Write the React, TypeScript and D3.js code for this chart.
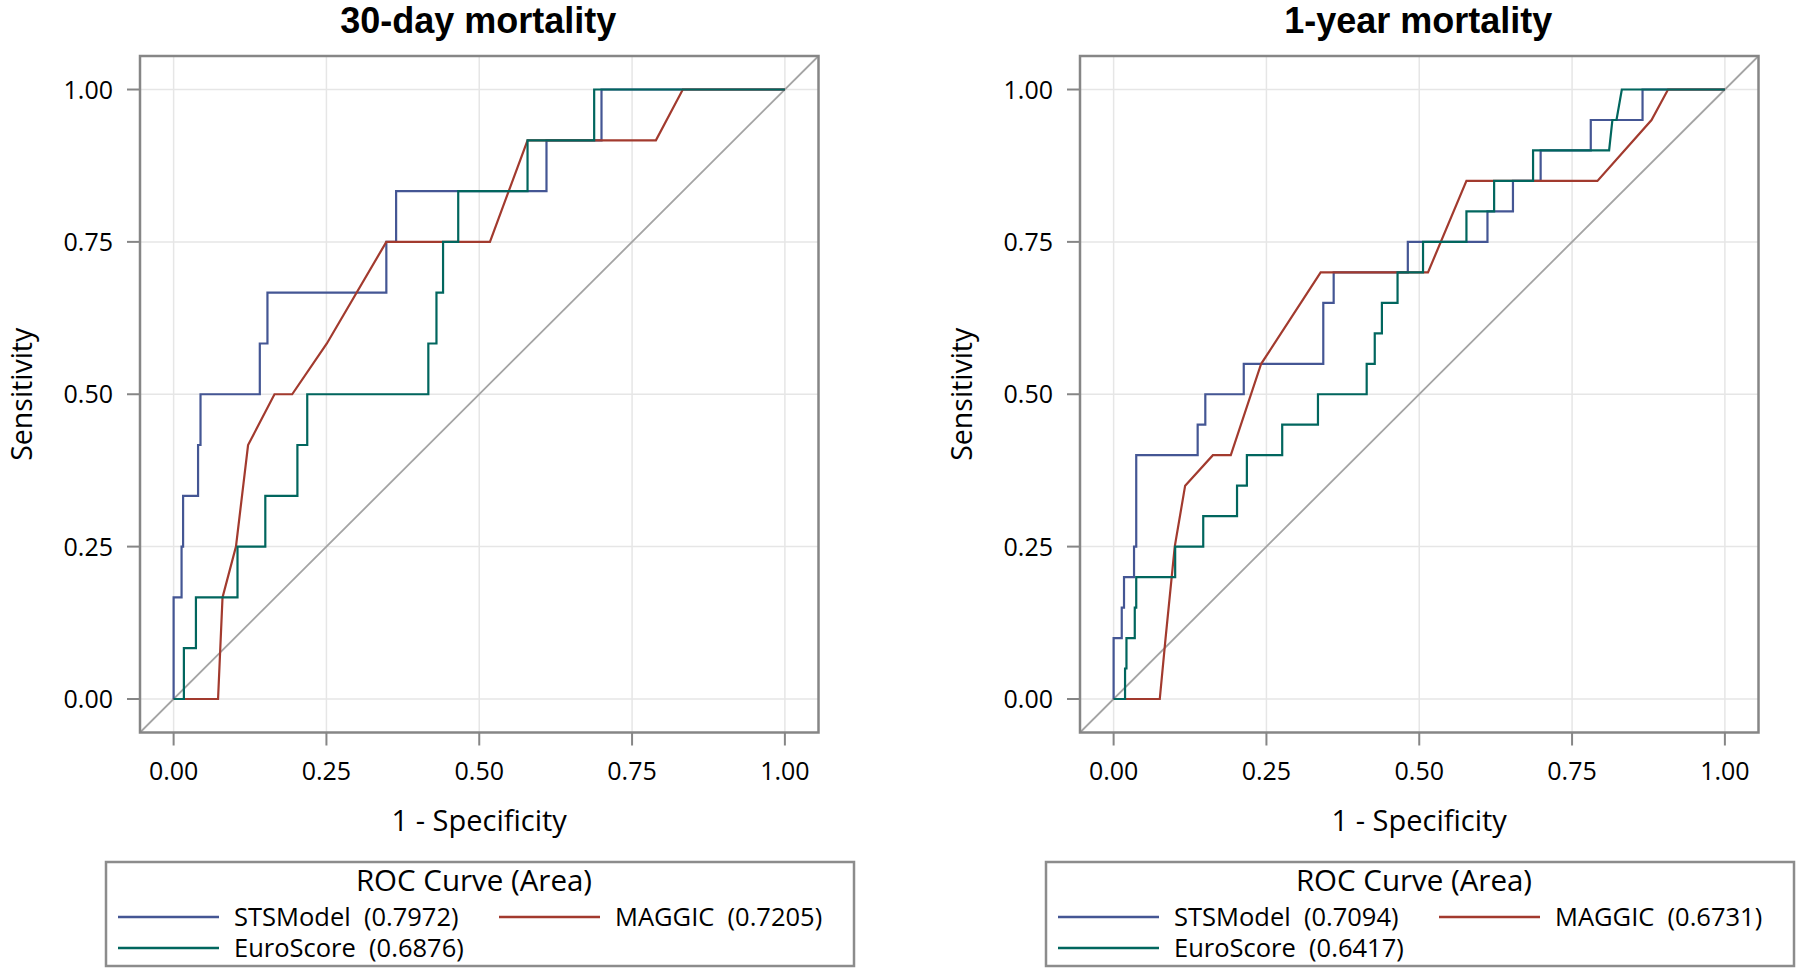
import React from "react";
import * as d3 from "d3";

// ---------- data ----------
const tickValues = [0, 0.25, 0.5, 0.75, 1];
const tickLabels = ["0.00", "0.25", "0.50", "0.75", "1.00"];
const panelTitles = ["30-day mortality", "1-year mortality"];
const seriesNames = ["STSModel", "MAGGIC", "EuroScore"];
const seriesColors = ["#445694", "#A23A2E", "#01665E"];
const areas30 = ["0.7972", "0.7205", "0.6876"];
const areas1y = ["0.7094", "0.6731", "0.6417"];

// 30-day mortality
const sts30Fpr = [0, 0, 0.013, 0.013, 0.0155, 0.0155, 0.04, 0.04, 0.044, 0.044, 0.141, 0.141, 0.1535, 0.1535, 0.348, 0.348, 0.364, 0.364, 0.61, 0.61, 0.7, 0.7, 1];
const sts30Tpr = [0, 0.1667, 0.1667, 0.25, 0.25, 0.3333, 0.3333, 0.4167, 0.4167, 0.5, 0.5, 0.5833, 0.5833, 0.6667, 0.6667, 0.75, 0.75, 0.8333, 0.8333, 0.9167, 0.9167, 1, 1];
const maggic30Fpr = [0, 0.0727, 0.08, 0.102, 0.1218, 0.165, 0.194, 0.2507, 0.348, 0.5175, 0.579, 0.789, 0.833, 1];
const maggic30Tpr = [0, 0, 0.1667, 0.25, 0.4167, 0.5, 0.5, 0.5833, 0.75, 0.75, 0.9167, 0.9167, 1, 1];
const euro30Fpr = [0, 0.0168, 0.0168, 0.0365, 0.0365, 0.1045, 0.1045, 0.15, 0.15, 0.2025, 0.2025, 0.2186, 0.2186, 0.4167, 0.4167, 0.43, 0.43, 0.4408, 0.4408, 0.4656, 0.4656, 0.579, 0.579, 0.688, 0.688, 1];
const euro30Tpr = [0, 0, 0.0833, 0.0833, 0.1667, 0.1667, 0.25, 0.25, 0.3333, 0.3333, 0.4167, 0.4167, 0.5, 0.5, 0.5833, 0.5833, 0.6667, 0.6667, 0.75, 0.75, 0.8333, 0.8333, 0.9167, 0.9167, 1, 1];

// 1-year mortality
const sts1yFpr = [0, 0, 0.0133, 0.0133, 0.017, 0.017, 0.0334, 0.0334, 0.037, 0.037, 0.1375, 0.1375, 0.15, 0.15, 0.2129, 0.2129, 0.343, 0.343, 0.36, 0.36, 0.4813, 0.4813, 0.6116, 0.6116, 0.6533, 0.6533, 0.6986, 0.6986, 0.7806, 0.7806, 0.8653, 0.8653, 1];
const sts1yTpr = [0, 0.1, 0.1, 0.15, 0.15, 0.2, 0.2, 0.25, 0.25, 0.4, 0.4, 0.45, 0.45, 0.5, 0.5, 0.55, 0.55, 0.65, 0.65, 0.7, 0.7, 0.75, 0.75, 0.8, 0.8, 0.85, 0.85, 0.9, 0.9, 0.95, 0.95, 1, 1];
const maggic1yFpr = [0, 0.0755, 0.085, 0.1, 0.117, 0.1624, 0.1917, 0.2414, 0.3387, 0.5143, 0.5772, 0.7915, 0.88, 0.907, 1];
const maggic1yTpr = [0, 0, 0.1, 0.25, 0.35, 0.4, 0.4, 0.55, 0.7, 0.7, 0.85, 0.85, 0.95, 1, 1];
const euro1yFpr = [0, 0.0187, 0.0187, 0.021, 0.021, 0.0346, 0.0346, 0.037, 0.037, 0.1007, 0.1007, 0.1466, 0.1466, 0.2019, 0.2019, 0.218, 0.218, 0.2758, 0.2758, 0.3343, 0.3343, 0.414, 0.414, 0.4272, 0.4272, 0.4389, 0.4389, 0.4645, 0.4645, 0.5062, 0.5062, 0.5772, 0.5772, 0.6225, 0.6225, 0.6862, 0.6862, 0.8106, 0.816, 0.8227, 0.8314, 1];
const euro1yTpr = [0, 0, 0.05, 0.05, 0.1, 0.1, 0.15, 0.15, 0.2, 0.2, 0.25, 0.25, 0.3, 0.3, 0.35, 0.35, 0.4, 0.4, 0.45, 0.45, 0.5, 0.5, 0.55, 0.55, 0.6, 0.6, 0.65, 0.65, 0.7, 0.7, 0.75, 0.75, 0.8, 0.8, 0.85, 0.85, 0.9, 0.9, 0.95, 0.95, 1, 1];

const panels = [
  {
    title: panelTitles[0],
    areas: areas30,
    series: [
      { fpr: sts30Fpr, tpr: sts30Tpr },
      { fpr: maggic30Fpr, tpr: maggic30Tpr },
      { fpr: euro30Fpr, tpr: euro30Tpr },
    ],
  },
  {
    title: panelTitles[1],
    areas: areas1y,
    series: [
      { fpr: sts1yFpr, tpr: sts1yTpr },
      { fpr: maggic1yFpr, tpr: maggic1yTpr },
      { fpr: euro1yFpr, tpr: euro1yTpr },
    ],
  },
];

// ---------- layout ----------
const W = 1800;
const H = 972;
const panelLefts = [140, 1080];
const plotW = 678.5;
const plotTop = 56;
const plotBottom = 732.5;
const domain: [number, number] = [-0.055, 1.055];
const FONT = "'Open Sans', 'Noto Sans', sans-serif";
const frameColor = "#868686";
const gridColor = "#e6e6e6";

function Panel({ idx }: { idx: number }) {
  const p = panels[idx];
  const left = panelLefts[idx];
  const right = left + plotW;
  const x = d3.scaleLinear().domain(domain).range([left, right]);
  const y = d3.scaleLinear().domain(domain).range([plotBottom, plotTop]);
  const line = d3
    .line<[number, number]>()
    .x((d) => x(d[0]))
    .y((d) => y(d[1]));
  const cx = (left + right) / 2;
  const cy = (plotTop + plotBottom) / 2;

  // legend
  const lgLeft = left - 34;
  const lgW = 748;
  const lgTop = 862;
  const lgH = 104;
  const entries = [
    { i: 0, col: 0, row: 0 },
    { i: 1, col: 1, row: 0 },
    { i: 2, col: 0, row: 1 },
  ];
  const colOffsets = [12, 393];
  const rowY = [917, 948];

  return (
    <g>
      <text
        x={cx - 1}
        y={33}
        textAnchor="middle"
        fontFamily="'Liberation Sans', Arial, sans-serif"
        fontWeight="bold"
        fontSize={36}
        fill="#000"
      >
        {p.title}
      </text>
      <rect x={left} y={plotTop} width={plotW} height={plotBottom - plotTop} fill="#fff" />
      {/* grid */}
      {tickValues.map((t) => (
        <g key={"g" + t}>
          <line x1={x(t)} x2={x(t)} y1={plotTop} y2={plotBottom} stroke={gridColor} strokeWidth={1.5} />
          <line x1={left} x2={right} y1={y(t)} y2={y(t)} stroke={gridColor} strokeWidth={1.5} />
        </g>
      ))}
      {/* diagonal */}
      <line
        x1={x(domain[0])}
        y1={y(domain[0])}
        x2={x(domain[1])}
        y2={y(domain[1])}
        stroke="#a4a4a4"
        strokeWidth={1.8}
      />
      {/* curves */}
      {p.series.map((s, i) => {
        const pts: [number, number][] = s.fpr.map((f, k) => [f, s.tpr[k]]);
        return (
          <path
            key={"s" + i}
            d={line(pts) || ""}
            fill="none"
            stroke={seriesColors[i]}
            strokeWidth={2.2}
            strokeLinejoin="miter"
          />
        );
      })}
      {/* frame */}
      <rect
        x={left}
        y={plotTop}
        width={plotW}
        height={plotBottom - plotTop}
        fill="none"
        stroke={frameColor}
        strokeWidth={2.5}
      />
      {/* ticks */}
      {tickValues.map((t, k) => (
        <g key={"t" + t}>
          <line x1={x(t)} x2={x(t)} y1={plotBottom} y2={plotBottom + 13} stroke={frameColor} strokeWidth={2} />
          <text x={x(t)} y={780} textAnchor="middle" fontFamily={FONT} fontSize={25} fill="#000">
            {tickLabels[k]}
          </text>
          <line x1={left - 13} x2={left} y1={y(t)} y2={y(t)} stroke={frameColor} strokeWidth={2} />
          <text
            x={left - 27}
            y={y(t)}
            dy="0.36em"
            textAnchor="end"
            fontFamily={FONT}
            fontSize={25}
            fill="#000"
          >
            {tickLabels[k]}
          </text>
        </g>
      ))}
      {/* axis labels */}
      <text x={cx} y={830.5} textAnchor="middle" fontFamily={FONT} fontSize={29} fill="#000">
        1 - Specificity
      </text>
      <text
        transform={`translate(${left - 108.5},${cy}) rotate(-90)`}
        textAnchor="middle"
        fontFamily={FONT}
        fontSize={28.5}
        fill="#000"
      >
        Sensitivity
      </text>
      {/* legend */}
      <rect x={lgLeft} y={lgTop} width={lgW} height={lgH} fill="#fff" stroke="#8c8c8c" strokeWidth={2.5} />
      <text
        x={lgLeft + lgW / 2 - 6}
        y={890.5}
        textAnchor="middle"
        fontFamily={FONT}
        fontSize={29.5}
        fill="#000"
      >
        ROC Curve (Area)
      </text>
      {entries.map((e) => (
        <g key={"l" + e.i}>
          <line
            x1={lgLeft + colOffsets[e.col]}
            x2={lgLeft + colOffsets[e.col] + 101}
            y1={rowY[e.row]}
            y2={rowY[e.row]}
            stroke={seriesColors[e.i]}
            strokeWidth={2.5}
          />
          <text
            x={lgLeft + colOffsets[e.col] + 116}
            y={rowY[e.row]}
            dy="0.36em"
            fontFamily={FONT}
            fontSize={25.5}
            fill="#000"
            style={{ whiteSpace: "pre" }}
          >
            {`${seriesNames[e.i]}  (${p.areas[e.i]})`}
          </text>
        </g>
      ))}
    </g>
  );
}

export default function App() {
  return (
    <div style={{ position: "absolute", left: 0, top: 0, width: W, height: H, background: "#fff" }}>
      <svg width={W} height={H} viewBox={`0 0 ${W} ${H}`} style={{ display: "block" }}>
        <rect x={0} y={0} width={W} height={H} fill="#fff" />
        <Panel idx={0} />
        <Panel idx={1} />
      </svg>
    </div>
  );
}
